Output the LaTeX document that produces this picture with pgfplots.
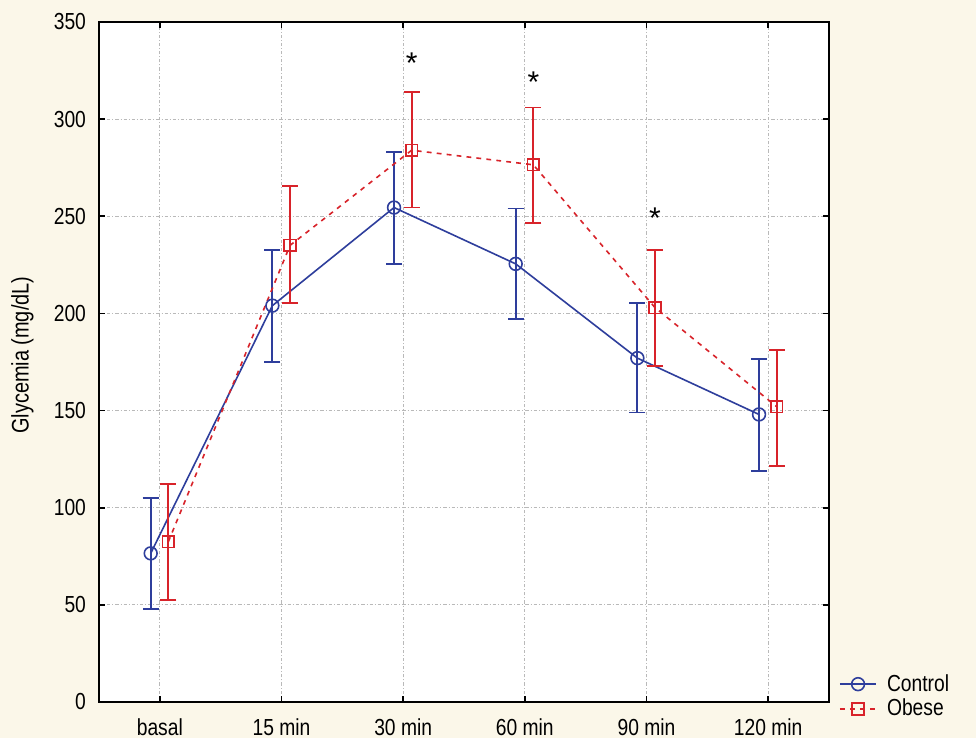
\documentclass[border=0pt]{standalone}
\usepackage{pgfplots}
\pgfplotsset{compat=1.18}
\usepackage{fontspec}
\setmainfont[FakeStretch=0.83]{Liberation Sans}
\newfontfamily\astfont{Liberation Sans}
\definecolor{bgcream}{HTML}{FBF7E9}
\definecolor{ctrlblue}{HTML}{2E3E9C}
\definecolor{obred}{HTML}{D8232A}

\pgfplotstableread{
x y ep em
-0.075 76.5 28.5 28.5
0.925 204 28.5 29
1.925 254.5 28.5 29
2.925 225.5 28.5 28.5
3.925 177 28.5 28
4.925 148 28.5 29
}\control

\pgfplotstableread{
x y ep em
0.07 82.5 29.5 30
1.07 235 30.5 29.5
2.07 284 30 29.5
3.07 276.5 29.5 30
4.07 203 29.5 30
5.07 152 29 30.5
}\obese

\begin{document}
\begin{tikzpicture}
\useasboundingbox (0,0) rectangle (488pt,369pt);
\fill[bgcream] (0,0) rectangle (488pt,369pt);
\begin{axis}[
  at={(49.5pt,18pt)}, anchor=south west,
  scale only axis, width=365pt, height=340pt,
  xmin=-0.5, xmax=5.5, ymin=0, ymax=350,
  xtick={0,...,5},
  xticklabels={basal,15 min,30 min,60 min,90 min,120 min},
  ytick={0,50,...,350},
  tick align=inside, major tick length=3pt,
  axis line style={line width=1pt},
  every tick/.style={black, line width=0.9pt},
  grid=major,
  major grid style={gray!55, line width=0.55pt, dash pattern=on 1.6pt off 1pt on 0.5pt off 1pt},
  axis background/.style={fill=white},
  font=\fontsize{11.6}{13}\selectfont,
  /pgf/number format/assume math mode=true,
  yticklabel style={xshift=-3pt},
  xticklabel style={yshift=-5pt},
  ylabel={Glycemia (mg/dL)},
  every axis y label/.style={at={(axis description cs:-0.105,0.51)}, rotate=90, anchor=center, font=\fontsize{12}{13}\selectfont},
  legend style={at={(1.005,0.008)}, anchor=west, draw=none, fill=none,
    font=\fontsize{11.6}{13}\selectfont, row sep=-1.5pt},
  legend cell align=left,
  /tikz/every odd column/.append style={column sep=3pt},
  legend image code/.code={\draw[mark repeat=2,mark phase=2,#1] plot coordinates {(0cm,0cm)(0.32cm,0cm)(0.64cm,0cm)};},
]
\addplot[ctrlblue, solid, line width=0.8pt, mark=o, mark size=3.2pt,
  mark options={solid, fill=white, line width=0.8pt},
  error bars/.cd, y dir=both, y explicit,
  error bar style={line width=0.9pt, solid, ctrlblue},
  error mark options={rotate=90, mark size=4pt, line width=0.9pt, ctrlblue}]
  table[x=x, y=y, y error plus=ep, y error minus=em] {\control};
\addlegendentry{Control}
\addplot[obred, line width=0.8pt, dash pattern=on 2.4pt off 2.6pt, mark=square, mark size=2.9pt,
  mark options={solid, fill=white, line width=0.8pt},
  error bars/.cd, y dir=both, y explicit,
  error bar style={line width=0.9pt, solid, obred},
  error mark options={rotate=90, mark size=4pt, line width=0.9pt, obred, solid}]
  table[x=x, y=y, y error plus=ep, y error minus=em] {\obese};
\addlegendentry{Obese}
\node[font=\astfont\fontsize{15}{16}\selectfont] at (axis cs:2.07,329) {*};
\node[font=\astfont\fontsize{15}{16}\selectfont] at (axis cs:3.07,319) {*};
\node[font=\astfont\fontsize{15}{16}\selectfont] at (axis cs:4.07,249) {*};
\end{axis}
\end{tikzpicture}
\end{document}
